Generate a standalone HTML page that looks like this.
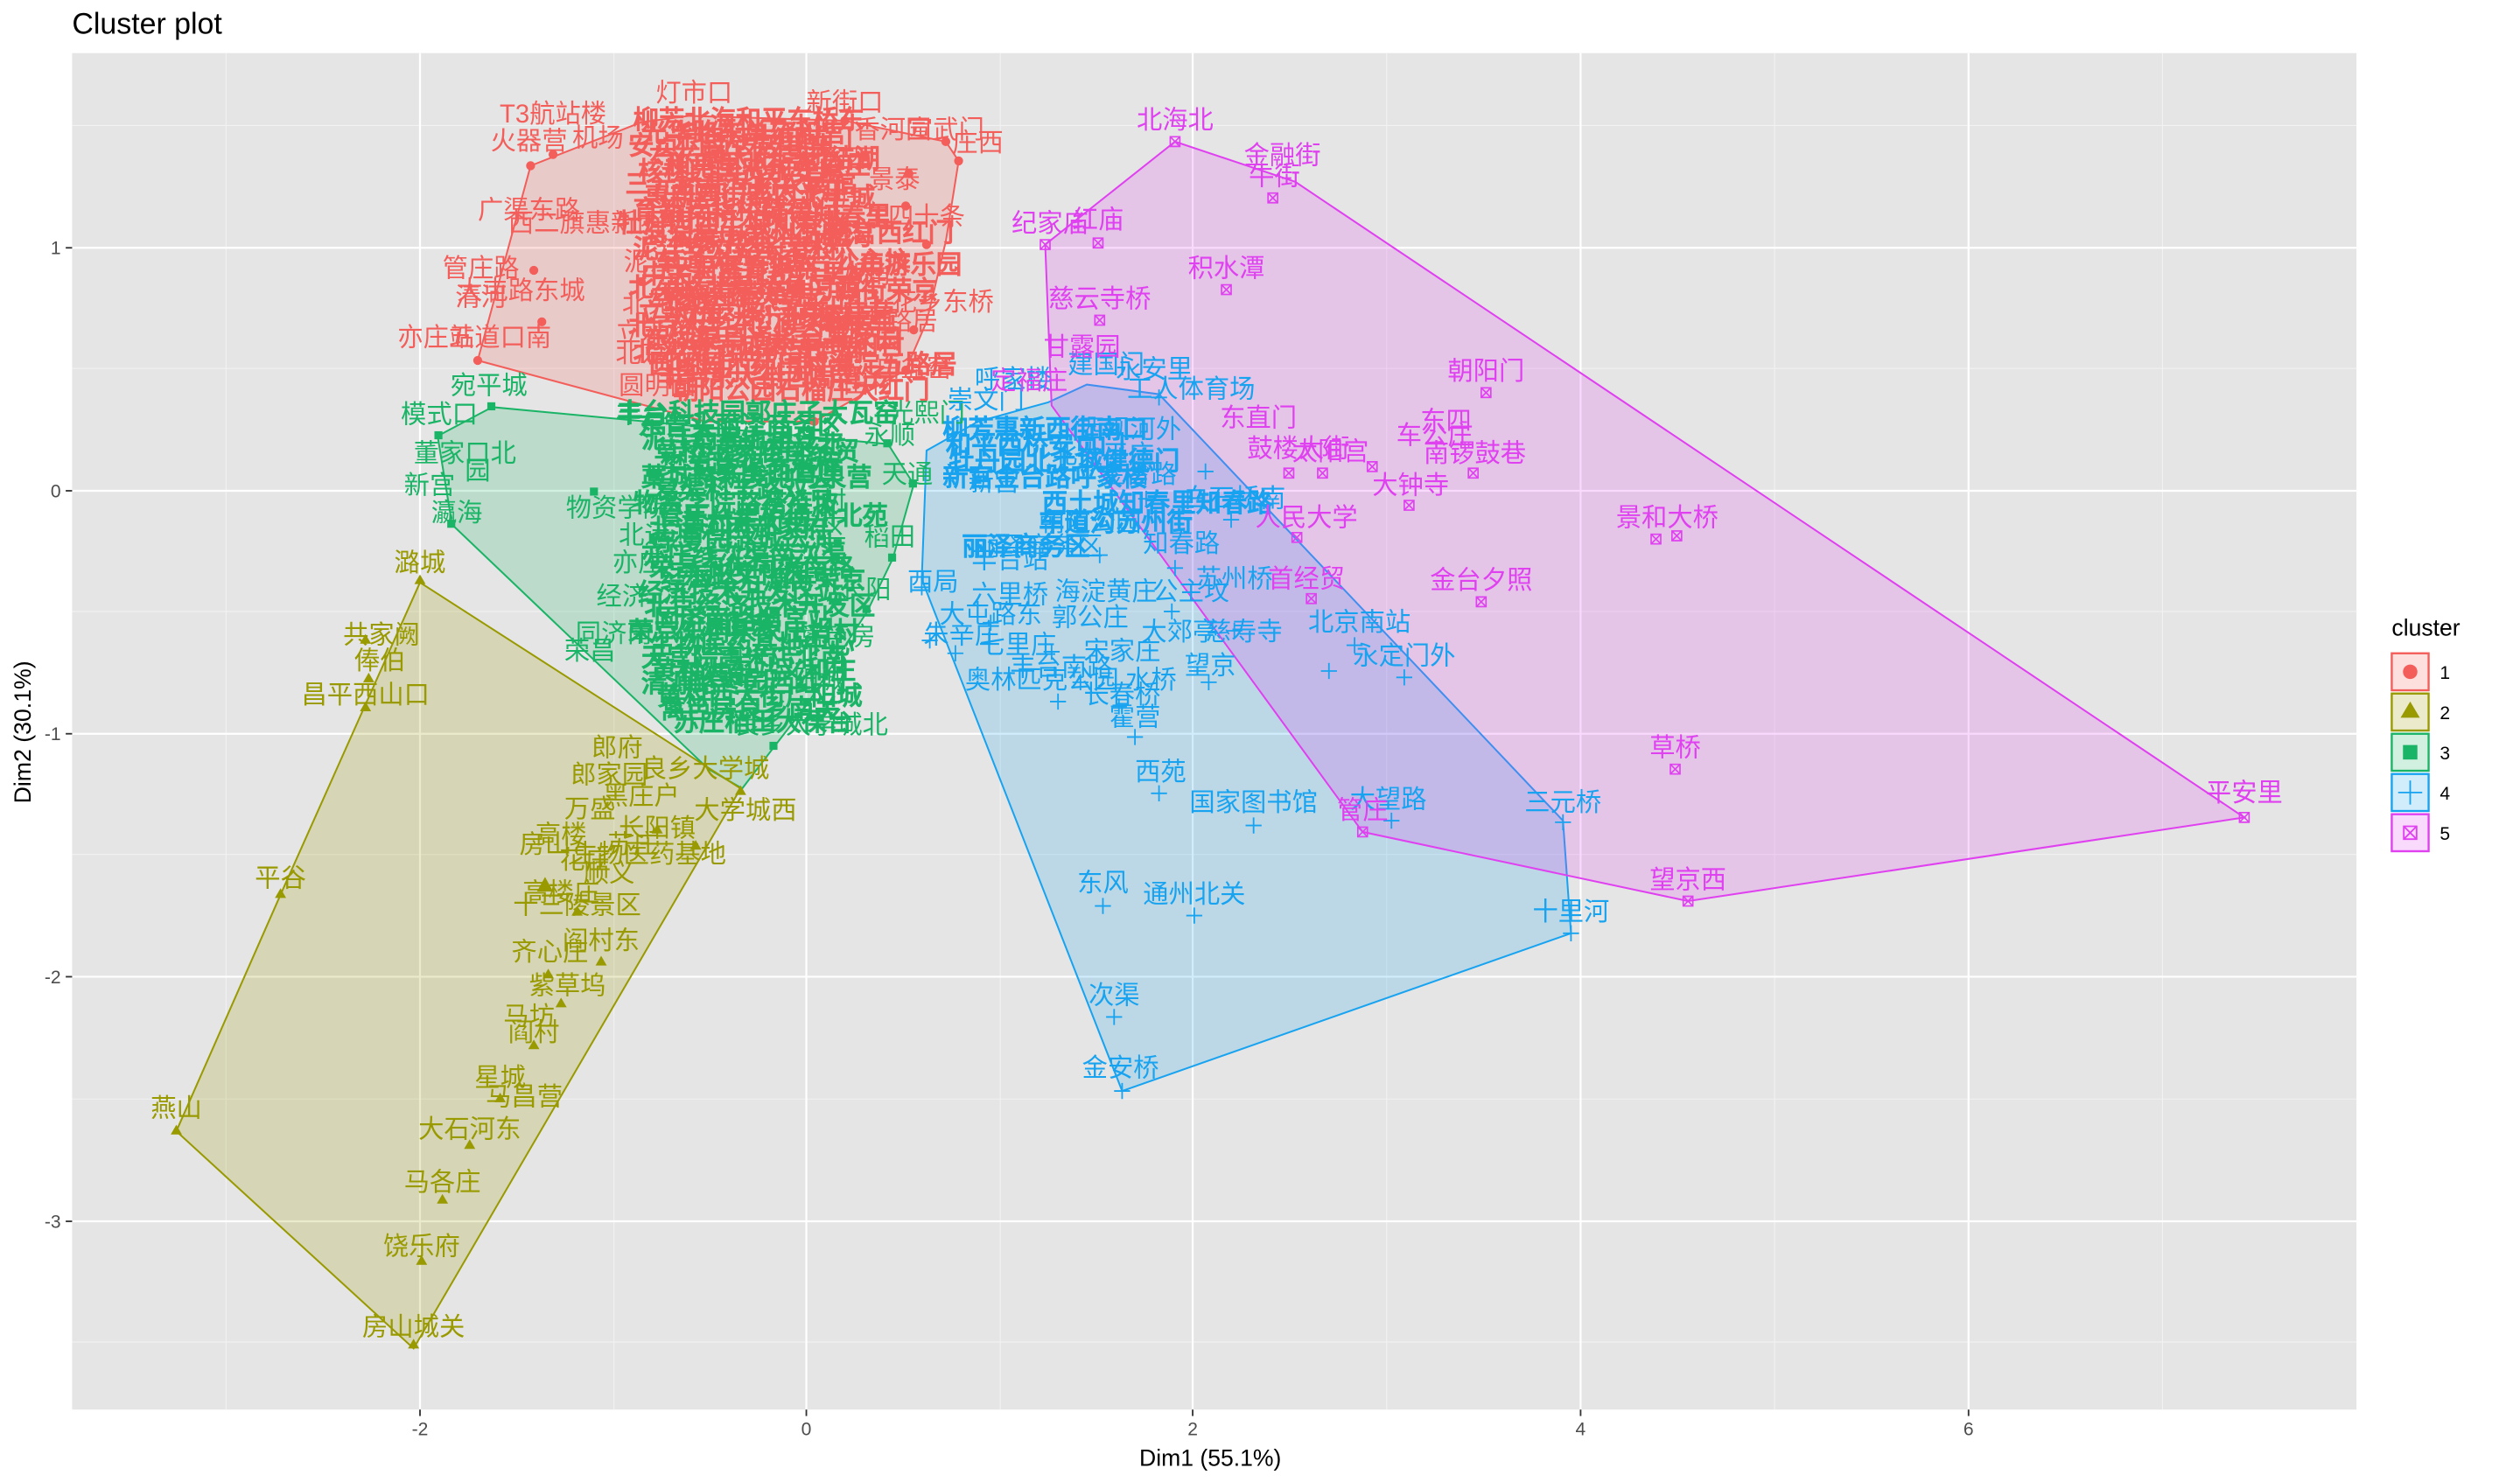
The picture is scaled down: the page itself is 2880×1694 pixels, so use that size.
<!DOCTYPE html>
<html><head><meta charset="utf-8"><style>
html,body{margin:0;padding:0;background:#fff;}
svg{display:block;}
text{font-family:"Liberation Sans","Noto Sans CJK SC",sans-serif;}
.l{font-size:16px;text-anchor:middle;font-family:"Liberation Sans","Noto Sans CJK SC",sans-serif;}
.r{fill:#F35E5A}.o{fill:#999900}.g{fill:#1AB466}.b{fill:#18A3F0}.p{fill:#E041F0}
.d{font-size:16px;font-family:"Liberation Sans","Noto Sans CJK SC",sans-serif;stroke-width:0.7;}
.d.r{stroke:#F35E5A}.d.g{stroke:#1AB466}.d.b{stroke:#18A3F0}
</style></head><body>
<svg width="2880" height="1694" viewBox="0 0 1572 921" preserveAspectRatio="none" xmlns="http://www.w3.org/2000/svg">
<rect x="0" y="0" width="1572" height="921" fill="#fff"/>
<text x="45" y="21" font-size="18.5" fill="#000">Cluster plot</text>
<rect x="45" y="33" width="1425" height="843" fill="#e5e5e5"/>
<g stroke="#f2f2f2" stroke-width="0.6">
<line x1="141" y1="33" x2="141" y2="876"/><line x1="383" y1="33" x2="383" y2="876"/><line x1="624" y1="33" x2="624" y2="876"/><line x1="865" y1="33" x2="865" y2="876"/><line x1="1107" y1="33" x2="1107" y2="876"/><line x1="1349" y1="33" x2="1349" y2="876"/>
<line x1="45" y1="78" x2="1470" y2="78"/><line x1="45" y1="229" x2="1470" y2="229"/><line x1="45" y1="380" x2="1470" y2="380"/><line x1="45" y1="531" x2="1470" y2="531"/><line x1="45" y1="683" x2="1470" y2="683"/><line x1="45" y1="834" x2="1470" y2="834"/>
</g>
<g stroke="#fff" stroke-width="1.2">
<line x1="262" y1="33" x2="262" y2="876"/><line x1="503" y1="33" x2="503" y2="876"/><line x1="744" y1="33" x2="744" y2="876"/><line x1="986" y1="33" x2="986" y2="876"/><line x1="1228" y1="33" x2="1228" y2="876"/>
<line x1="45" y1="154" x2="1470" y2="154"/><line x1="45" y1="305" x2="1470" y2="305"/><line x1="45" y1="456" x2="1470" y2="456"/><line x1="45" y1="607" x2="1470" y2="607"/><line x1="45" y1="759" x2="1470" y2="759"/>
</g>
<!-- hulls -->
<polygon points="298,224 331,103 400,76 430,72 527,75 590,88 598,100 590,150 578,200 565,230 508,262 440,262" fill="#F35E5A" fill-opacity="0.2" stroke="#F35E5A" stroke-width="1.1"/>
<polygon points="307,253 273,271 282,326 442,478 463,490 483,464 504,437 541,380 557,347 570,301 554,276" fill="#1AB466" fill-opacity="0.2" stroke="#1AB466" stroke-width="1.1"/>
<polygon points="262,362 175,556 110,703 258,838 462,490" fill="#999900" fill-opacity="0.2" stroke="#999900" stroke-width="1.1"/>
<polygon points="575,360 578,280 610,262 654,250 678,239 723,245 955,489 975,510 980,580 700,678" fill="#18A3F0" fill-opacity="0.2" stroke="#18A3F0" stroke-width="1.1"/>
<polygon points="652,152 733,88 808,113 1400,508 1053,560 850,517 656,252" fill="#E041F0" fill-opacity="0.2" stroke="#E041F0" stroke-width="1.1"/>

<!-- dense blobs -->
<g class="d r">
<text x="395" y="80">柳芳北海和平东桥东</text><text x="400" y="88">光华路东单雍和宫</text><text x="392" y="96">安贞门南锣鼓巷东</text><text x="405" y="104">芍药居太阳宫团结湖</text><text x="398" y="112">核桃园国贸永安里</text><text x="390" y="120">三元桥亮马桥农展馆</text><text x="402" y="128">惠新西街南口北土城</text><text x="395" y="136">育新安华桥健德门</text><text x="385" y="144">牡丹园西土城知春路</text><text x="400" y="152">海淀黄庄苏州街巴沟</text><text x="395" y="160">泥洼安立路长春桥</text><text x="408" y="168">车道沟西钓鱼台公主坟</text><text x="400" y="176">中关村莲花桥六里桥</text><text x="392" y="184">北苑路北草桥角门西</text><text x="405" y="192">马家堡陶然亭菜市口</text><text x="398" y="200">立水桥广安门内达官营</text><text x="392" y="208">北京大学东门湾子柳芳</text><text x="402" y="216">东湖渠阜通将台高家园</text><text x="395" y="224">北沙滩酒仙桥望京南</text><text x="405" y="232">圆明园西苑田村海淀五路居</text><text x="410" y="240">丰台东大街西局湾子</text><text x="420" y="248">朝阳公园石榴庄大红门</text>
<text x="420" y="92">东四灯市口前门</text><text x="415" y="108">和平里北街车公庄</text><text x="418" y="124">西直门北太平庄</text><text x="412" y="140">蓟门桥大钟寺知春里</text><text x="420" y="156">呼家楼金台夕照</text><text x="415" y="172">十里堡青年路</text><text x="412" y="188">黄渠常营草房</text><text x="418" y="204">双井劲松潘家园</text><text x="414" y="220">分钟寺成寿寺</text><text x="420" y="236">肖村小红门旧宫</text>
<text x="515" y="150">新宫西红门</text><text x="520" y="170">八角游乐园</text><text x="505" y="186">万源街荣京</text><text x="512" y="205">永丰屯</text><text x="500" y="220">马甸田村</text>
</g>
<g class="d g">
<text x="385" y="262">丰台科技园郭庄子大瓦窑</text><text x="398" y="270">东管头丽泽商务区</text><text x="400" y="278">泥洼西局七里庄</text><text x="408" y="286">草桥纪家庙首经贸</text><text x="412" y="294">樊羊路花乡东桥</text><text x="400" y="302">藁城路新发地马泉营</text><text x="408" y="310">葛渠科丰路双合</text><text x="395" y="318">物资学院路褡裢坡</text><text x="410" y="326">管庄八里桥通州北苑</text><text x="405" y="334">北运河西郝家府</text><text x="408" y="342">东夏园潞城运河</text><text x="400" y="350">亦庄线次渠南次渠</text><text x="405" y="358">荣昌东街同济南路</text><text x="412" y="366">经海路万源街荣京</text><text x="398" y="374">经济技术开发区站</text><text x="402" y="382">北京经济技术开发区</text><text x="408" y="390">同济南路旧宫站</text><text x="392" y="398">荣京东街宋家庄肖村</text><text x="405" y="406">生物医药基地中心</text><text x="400" y="414">天宫院高米店北南</text><text x="406" y="422">黄村火车站义和庄</text><text x="400" y="430">清源路枣园西红门</text><text x="410" y="438">黄村西大街广阳城</text><text x="412" y="446">篱笆房良乡南关</text><text x="420" y="454">苏庄稻田大葆台</text>
<text x="430" y="282">东高地和义北</text><text x="430" y="298">马家堡西管庄</text><text x="425" y="330">黄村东大街</text><text x="425" y="362">亦庄文化园</text><text x="420" y="394">万源街东</text><text x="425" y="426">旧宫站</text>
</g>
<g class="d b">
<text x="588" y="272">柳芳惠新西街南口</text><text x="590" y="282">和平西桥安贞门</text><text x="592" y="292">牡丹园北土城健德门</text><text x="588" y="302">新宫金台路呼家楼</text><text x="650" y="318">西土城知春里知春路</text><text x="648" y="330">车道沟苏州街</text><text x="600" y="345">丽泽商务区</text>
</g>

<!-- red labels -->
<g class="l r">
<text x="345" y="76">T3航站楼</text><text x="330" y="93">火器营</text><text x="373" y="91">机场</text><text x="433" y="63">灯市口</text><text x="527" y="69">新街口</text><text x="557" y="86">香河园</text><text x="590" y="86">宣武门</text><text x="610" y="94">庄西</text><text x="520" y="104">家园西</text><text x="558" y="117">景泰</text><text x="570" y="140">东四十条</text><text x="524" y="128">方庄</text><text x="330" y="136">广渠东路</text><text x="365" y="144">西二旗惠新西</text><text x="300" y="172">管庄路</text><text x="300" y="190">清河</text><text x="325" y="186">大屯路东城</text><text x="272" y="215">亦庄站</text><text x="312" y="215">五道口南</text><text x="405" y="168">泥洼</text><text x="420" y="194">北苑路北</text><text x="408" y="212">立水桥</text><text x="408" y="225">北京站</text><text x="410" y="245">圆明园</text><text x="588" y="193">花乡东桥</text><text x="570" y="234">白盆窑</text><text x="542" y="244">田村</text><text x="540" y="176">八角</text><text x="545" y="205">海淀五路居</text>
</g>
<g fill="#F35E5A">
<circle cx="331" cy="103" r="2.8"/><circle cx="345" cy="96" r="2.8"/><circle cx="298" cy="224" r="2.8"/><circle cx="527" cy="75" r="2.8"/><circle cx="598" cy="100" r="2.8"/><circle cx="590" cy="88" r="2.8"/><circle cx="567" cy="108" r="2.8"/><circle cx="565" cy="128" r="2.8"/><circle cx="578" cy="152" r="2.8"/><circle cx="333" cy="168" r="2.8"/><circle cx="440" cy="205" r="2.8"/><circle cx="418" cy="237" r="2.8"/><circle cx="565" cy="230" r="2.8"/><circle cx="570" cy="205" r="2.8"/><circle cx="508" cy="262" r="2.8"/><circle cx="338" cy="200" r="2.8"/><circle cx="400" cy="175" r="2.8"/>
</g>

<!-- green labels -->
<g class="l g">
<text x="305" y="245">宛平城</text><text x="274" y="263">模式口</text><text x="290" y="287">董家口北</text><text x="268" y="307">新宫</text><text x="285" y="324">瀛海</text><text x="298" y="298">园</text><text x="385" y="321">物资学院</text><text x="410" y="338">北运河</text><text x="398" y="355">亦庄</text><text x="388" y="376">经济</text><text x="383" y="399">同济南</text><text x="368" y="410">荣昌</text><text x="470" y="413">中心</text><text x="503" y="428">广阳城</text><text x="506" y="456">良乡大学城北</text><text x="555" y="339">稻田</text><text x="540" y="372">长阳</text><text x="522" y="401">篱笆房</text><text x="480" y="392">站</text><text x="520" y="334">区</text><text x="520" y="317">村</text><text x="578" y="262">光熙门</text><text x="555" y="276">永顺</text><text x="566" y="300">天通</text><text x="510" y="270">北</text><text x="400" y="263">丰台</text>
</g>
<g fill="#1AB466">
<rect x="304" y="250" width="5" height="5"/><rect x="271" y="268" width="5" height="5"/><rect x="279" y="323" width="5" height="5"/><rect x="567" y="298" width="5" height="5"/><rect x="554" y="344" width="5" height="5"/><rect x="538" y="376" width="5" height="5"/><rect x="501" y="434" width="5" height="5"/><rect x="480" y="461" width="5" height="5"/><rect x="551" y="273" width="5" height="5"/><rect x="368" y="303" width="5" height="5"/><rect x="405" y="333" width="5" height="5"/><rect x="480" y="377" width="5" height="5"/><rect x="520" y="335" width="5" height="5"/>
</g>

<!-- olive labels -->
<g class="l o">
<text x="262" y="355">潞城</text><text x="238" y="400">共家阙</text><text x="237" y="416">俸伯</text><text x="228" y="437">昌平西山口</text><text x="175" y="551">平谷</text><text x="110" y="694">燕山</text><text x="343" y="597">齐心庄</text><text x="354" y="618">紫草坞</text><text x="330" y="637">马坊</text><text x="333" y="647">阎村</text><text x="312" y="675">星城</text><text x="327" y="687">马昌营</text><text x="293" y="707">大石河东</text><text x="276" y="740">马各庄</text><text x="263" y="780">饶乐府</text><text x="258" y="830">房山城关</text><text x="375" y="590">阎村东</text><text x="360" y="568">十三陵景区</text><text x="350" y="560">高楼庄</text><text x="440" y="483">良乡大学城</text><text x="465" y="509">大学城西</text><text x="380" y="487">郎家园</text><text x="368" y="508">万盛</text><text x="350" y="524">高楼</text><text x="340" y="530">房山</text><text x="405" y="536">生物医药基地</text><text x="385" y="470">郎府</text><text x="380" y="548">顺义</text><text x="400" y="500">黑庄户</text><text x="395" y="530">苏庄</text><text x="410" y="520">长阳镇</text><text x="365" y="540">花庄</text>
</g>
<g fill="#999900">
<path d="M262,357l3.5,6h-7z"/><path d="M228,394l3.5,6h-7z"/><path d="M230,418l3.5,6h-7z"/><path d="M228,436l3.5,6h-7z"/><path d="M175,552l3.5,6h-7z"/><path d="M110,699l3.5,6h-7z"/><path d="M258,832l3.5,6h-7z"/><path d="M263,780l3.5,6h-7z"/><path d="M276,742l3.5,6h-7z"/><path d="M293,708l3.5,6h-7z"/><path d="M312,679l3.5,6h-7z"/><path d="M333,646l3.5,6h-7z"/><path d="M350,620l3.5,6h-7z"/><path d="M342,602l3.5,6h-7z"/><path d="M375,594l3.5,6h-7z"/><path d="M462,488l3.5,6h-7z"/><path d="M340,545l5,9h-10z"/><path d="M410,512l3.5,6h-7z"/><path d="M360,563l3.5,6h-7z"/><path d="M434,522l3.5,6h-7z"/>
</g>

<!-- blue labels -->
<g class="l b">
<text x="632" y="241">呼家楼</text><text x="615" y="254">崇文门</text><text x="690" y="232">建国门</text><text x="720" y="235">永安里</text><text x="743" y="247">工人体育场</text><text x="705" y="272">西坝河外</text><text x="688" y="288">北太平庄</text><text x="710" y="300">金台路</text><text x="770" y="315">白石桥南</text><text x="620" y="305">新宫</text><text x="648" y="345">丽泽商务区</text><text x="630" y="353">丰台站</text><text x="680" y="330">朝阳公园</text><text x="737" y="343">知春路</text><text x="582" y="367">西局</text><text x="630" y="375">六里桥</text><text x="690" y="373">海淀黄庄</text><text x="743" y="373">公主坟</text><text x="770" y="365">苏州桥</text><text x="618" y="387">大屯路东</text><text x="680" y="389">郭公庄</text><text x="600" y="400">朱辛庄</text><text x="635" y="406">七里庄</text><text x="736" y="398">大郊亭</text><text x="776" y="398">慈寿寺</text><text x="848" y="392">北京南站</text><text x="876" y="413">永定门外</text><text x="700" y="410">宋家庄</text><text x="662" y="420">丰台南路</text><text x="755" y="419">望京</text><text x="650" y="428">奥林匹克公园</text><text x="718" y="428">水桥</text><text x="700" y="437">长春桥</text><text x="708" y="451">霍营</text><text x="724" y="485">西苑</text><text x="782" y="504">国家图书馆</text><text x="866" y="502">大望路</text><text x="975" y="504">三元桥</text><text x="688" y="554">东风</text><text x="745" y="561">通州北关</text><text x="980" y="572">十里河</text><text x="695" y="624">次渠</text><text x="699" y="669">金安桥</text>
</g>
<g stroke="#18A3F0" stroke-width="1" fill="none">
<path d="M575,360v10M570,365h10"/><path d="M596,401v10M591,406h10"/><path d="M580,393v10M575,398h10"/><path d="M700,673v10M695,678h10"/><path d="M695,627v10M690,632h10"/><path d="M688,558v10M683,563h10"/><path d="M745,564v10M740,569h10"/><path d="M980,575v10M975,580h10"/><path d="M975,506v10M970,511h10"/><path d="M868,505v10M863,510h10"/><path d="M782,508v10M777,513h10"/><path d="M723,488v10M718,493h10"/><path d="M708,453v10M703,458h10"/><path d="M698,434v10M693,439h10"/><path d="M754,419v10M749,424h10"/><path d="M829,412v10M824,417h10"/><path d="M876,416v10M871,421h10"/><path d="M845,396v10M840,401h10"/><path d="M770,387v10M765,392h10"/><path d="M731,375v10M726,380h10"/><path d="M686,340v10M681,345h10"/><path d="M733,348v10M728,353h10"/><path d="M768,318v10M763,323h10"/><path d="M752,288v10M747,293h10"/><path d="M715,305v10M710,310h10"/><path d="M723,242v10M718,247h10"/><path d="M656,400v10M651,405h10"/><path d="M660,431v10M655,436h10"/><path d="M674,419v10M669,424h10"/><path d="M618,382v10M613,387h10"/>
</g>

<!-- pink labels -->
<g class="l p">
<text x="733" y="80">北海北</text><text x="800" y="102">金融街</text><text x="795" y="115">牛街</text><text x="655" y="144">纪家庙</text><text x="685" y="142">红庙</text><text x="765" y="172">积水潭</text><text x="686" y="191">慈云寺桥</text><text x="675" y="221">甘露园</text><text x="642" y="242">定福庄</text><text x="927" y="236">朝阳门</text><text x="902" y="267">东四</text><text x="895" y="276">车公庄</text><text x="920" y="287">南锣鼓巷</text><text x="880" y="307">大钟寺</text><text x="785" y="265">东直门</text><text x="810" y="284">鼓楼大街</text><text x="830" y="286">太阳宫</text><text x="815" y="327">人民大学</text><text x="815" y="365">首经贸</text><text x="924" y="366">金台夕照</text><text x="1040" y="327">景和大桥</text><text x="1045" y="470">草桥</text><text x="1400" y="498">平安里</text><text x="1053" y="552">望京西</text><text x="850" y="509">管庄</text>
</g>
<g stroke="#E041F0" stroke-width="0.9" fill="none">
<path d="M730,85h6v6h-6zM730,85l6,6M736,85l-6,6"/><path d="M791,120h6v6h-6zM791,120l6,6M797,120l-6,6"/><path d="M649,149h6v6h-6zM649,149l6,6M655,149l-6,6"/><path d="M682,148h6v6h-6zM682,148l6,6M688,148l-6,6"/><path d="M762,177h6v6h-6zM762,177l6,6M768,177l-6,6"/><path d="M683,196h6v6h-6zM683,196l6,6M689,196l-6,6"/><path d="M924,241h6v6h-6zM924,241l6,6M930,241l-6,6"/><path d="M916,291h6v6h-6zM916,291l6,6M922,291l-6,6"/><path d="M876,311h6v6h-6zM876,311l6,6M882,311l-6,6"/><path d="M853,287h6v6h-6zM853,287l6,6M859,287l-6,6"/><path d="M822,291h6v6h-6zM822,291l6,6M828,291l-6,6"/><path d="M801,291h6v6h-6zM801,291l6,6M807,291l-6,6"/><path d="M806,331h6v6h-6zM806,331l6,6M812,331l-6,6"/><path d="M815,369h6v6h-6zM815,369l6,6M821,369l-6,6"/><path d="M921,371h6v6h-6zM921,371l6,6M927,371l-6,6"/><path d="M1030,332h6v6h-6zM1030,332l6,6M1036,332l-6,6"/><path d="M1043,330h6v6h-6zM1043,330l6,6M1049,330l-6,6"/><path d="M1042,475h6v6h-6zM1042,475l6,6M1048,475l-6,6"/><path d="M1397,505h6v6h-6zM1397,505l6,6M1403,505l-6,6"/><path d="M1050,557h6v6h-6zM1050,557l6,6M1056,557l-6,6"/><path d="M847,514h6v6h-6zM847,514l6,6M853,514l-6,6"/>
</g>

<!-- axes ticks -->
<g stroke="#333" stroke-width="1">
<line x1="262" y1="876" x2="262" y2="880"/><line x1="503" y1="876" x2="503" y2="880"/><line x1="744" y1="876" x2="744" y2="880"/><line x1="986" y1="876" x2="986" y2="880"/><line x1="1228" y1="876" x2="1228" y2="880"/>
<line x1="41" y1="154" x2="45" y2="154"/><line x1="41" y1="305" x2="45" y2="305"/><line x1="41" y1="456" x2="45" y2="456"/><line x1="41" y1="607" x2="45" y2="607"/><line x1="41" y1="759" x2="45" y2="759"/>
</g>
<g font-size="11.5" fill="#4d4d4d" text-anchor="middle">
<text x="262" y="892">-2</text><text x="503" y="892">0</text><text x="744" y="892">2</text><text x="986" y="892">4</text><text x="1228" y="892">6</text>
</g>
<g font-size="11.5" fill="#4d4d4d" text-anchor="end">
<text x="38" y="158">1</text><text x="38" y="309">0</text><text x="38" y="460">-1</text><text x="38" y="611">-2</text><text x="38" y="763">-3</text>
</g>
<text x="755" y="911" font-size="14.5" text-anchor="middle" fill="#000">Dim1 (55.1%)</text>
<text transform="translate(19,455) rotate(-90)" font-size="14.5" text-anchor="middle" fill="#000">Dim2 (30.1%)</text>

<!-- legend -->
<text x="1492" y="395" font-size="14.5" fill="#000">cluster</text>
<g stroke-width="1.3">
<rect x="1492" y="406" width="23" height="23" fill="#F35E5A" fill-opacity="0.2" stroke="#F35E5A"/>
<rect x="1492" y="431" width="23" height="23" fill="#999900" fill-opacity="0.2" stroke="#999900"/>
<rect x="1492" y="456" width="23" height="23" fill="#1AB466" fill-opacity="0.2" stroke="#1AB466"/>
<rect x="1492" y="481" width="23" height="23" fill="#18A3F0" fill-opacity="0.2" stroke="#18A3F0"/>
<rect x="1492" y="506" width="23" height="23" fill="#E041F0" fill-opacity="0.2" stroke="#E041F0"/>
</g>
<circle cx="1503.5" cy="417.5" r="4.5" fill="#F35E5A"/>
<path d="M1503.5,436l6,10h-12z" fill="#999900"/>
<rect x="1499" y="463" width="9" height="9" fill="#1AB466"/>
<path d="M1503.5,485v15M1496,492.5h15" stroke="#18A3F0" stroke-width="1"/>
<path d="M1499.5,513.5h8v8h-8zM1499.5,513.5l8,8M1507.5,513.5l-8,8" stroke="#E041F0" stroke-width="1" fill="none"/>
<g font-size="11.5" fill="#000">
<text x="1522" y="422">1</text><text x="1522" y="447">2</text><text x="1522" y="472">3</text><text x="1522" y="497">4</text><text x="1522" y="522">5</text>
</g>
</svg>
</body></html>
